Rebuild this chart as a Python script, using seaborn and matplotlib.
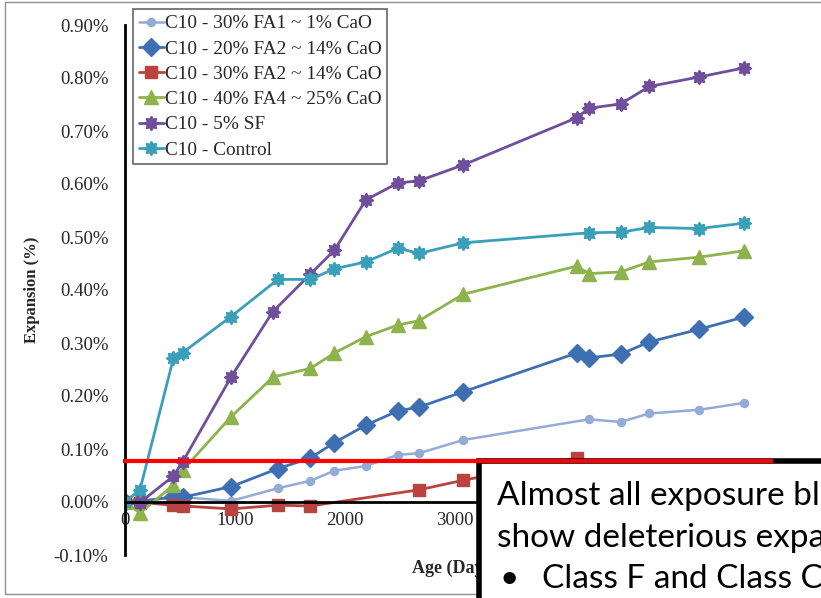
import matplotlib
matplotlib.use("Agg")
import matplotlib.pyplot as plt
import seaborn as sns
from matplotlib.lines import Line2D
from matplotlib.markers import MarkerStyle
from matplotlib.patches import Rectangle
from matplotlib.path import Path
from matplotlib.ticker import FixedLocator, FuncFormatter, MultipleLocator
from matplotlib.transforms import blended_transform_factory

sns.set_style("white")
plt.rcParams["font.family"] = ["Liberation Serif", "DejaVu Serif"]

# ---- expansion data (age in days, expansion in %) ----
labels = [
    "C10 - 30% FA1 ~ 1% CaO",
    "C10 - 20% FA2 ~ 14% CaO",
    "C10 - 30% FA2 ~ 14% CaO",
    "C10 - 40% FA4 ~ 25% CaO",
    "C10 - 5% SF",
    "C10 - Control",
]

fa1_30_age = [0, 136, 440, 525, 965, 1390, 1686, 1903, 2190, 2482, 2673, 3075,
              4218, 4506, 4766, 5221, 5627]
fa1_30_exp = [0.000, 0.002, 0.008, 0.009, 0.002, 0.026, 0.040, 0.059, 0.068,
              0.089, 0.092, 0.117, 0.156, 0.151, 0.167, 0.174, 0.187]

fa2_20_age = [0, 136, 440, 525, 965, 1390, 1686, 1903, 2190, 2482, 2673, 3075,
              4106, 4218, 4506, 4766, 5221, 5627]
fa2_20_exp = [0.000, 0.001, 0.010, 0.009, 0.029, 0.063, 0.083, 0.112, 0.145,
              0.172, 0.179, 0.208, 0.281, 0.272, 0.279, 0.302, 0.326, 0.349]

fa2_30_age = [0, 136, 440, 525, 965, 1394, 1686, 2673, 3075, 4106]
fa2_30_exp = [0.000, -0.001, -0.006, -0.0075, -0.013, -0.006, -0.0075,
              0.023, 0.041, 0.083]

fa4_40_age = [0, 136, 440, 525, 965, 1348, 1686, 1903, 2190, 2482, 2673, 3075,
              4106, 4218, 4506, 4766, 5221, 5627]
fa4_40_exp = [0.000, -0.021, 0.032, 0.060, 0.161, 0.236, 0.252, 0.281, 0.312,
              0.334, 0.342, 0.392, 0.445, 0.431, 0.434, 0.453, 0.462, 0.474]

sf_5_age = [0, 136, 440, 525, 965, 1343, 1686, 1903, 2190, 2482, 2673, 3075,
            4106, 4218, 4506, 4766, 5221, 5627]
sf_5_exp = [0.000, -0.001, 0.049, 0.076, 0.236, 0.359, 0.430, 0.475, 0.570,
            0.602, 0.606, 0.636, 0.725, 0.743, 0.751, 0.784, 0.802, 0.819]

control_age = [0, 136, 440, 525, 965, 1390, 1686, 1903, 2190, 2482, 2673, 3075,
               4218, 4506, 4766, 5221, 5627]
control_exp = [0.000, 0.023, 0.271, 0.282, 0.350, 0.420, 0.420, 0.440, 0.453,
               0.479, 0.469, 0.489, 0.508, 0.509, 0.518, 0.516, 0.526]

age_ticks = [0, 1000, 2000, 3000]
threshold = 0.078  # deleterious expansion limit, %

note_lines = ["Almost all exposure blocks", "show deleterious expansion"]
note_bullet = "Class F and Class C fly ash"

# chunky eight-pointed asterisk marker
star = MarkerStyle(Path.unit_regular_star(8, innerCircle=0.62), joinstyle="round")
series = [
    (fa1_30_age, fa1_30_exp, "#93abd6", "o", 5.8, 1.8),
    (fa2_20_age, fa2_20_exp, "#3f6fb3", "D", 9.0, 2.0),
    (fa2_30_age, fa2_30_exp, "#b8433f", "s", 9.0, 2.0),
    (fa4_40_age, fa4_40_exp, "#8db34c", "^", 9.5, 2.0),
    (sf_5_age, sf_5_exp, "#6f4e9c", star, 9.5, 2.0),
    (control_age, control_exp, "#3aa0b9", star, 9.5, 2.0),
]

fig = plt.figure(figsize=(8.21, 5.98), dpi=100)
W, H = 821, 598
ax = fig.add_axes([125 / W, 43 / H, 660 / W, 530 / H])

for (age, exp, color, marker, ms, lw), label in zip(series, labels):
    mew = 1.5 if marker is star else 1.0
    sns.lineplot(x=age, y=exp, ax=ax, color=color, marker=marker,
                 markersize=ms, markeredgecolor=color, markeredgewidth=mew,
                 linewidth=lw, label=label, errorbar=None, sort=False)

ax.set_xlim(0, 6000)
ax.set_ylim(-0.1, 0.9)
ax.xaxis.set_major_locator(FixedLocator(age_ticks))
ax.yaxis.set_major_locator(MultipleLocator(0.1))
ax.yaxis.set_major_formatter(FuncFormatter(lambda v, p: f"{v:.2f}%"))
ax.xaxis.set_major_formatter(FuncFormatter(lambda v, p: f"{v:.0f}"))
ax.tick_params(axis="y", length=0, pad=12, labelsize=13.5)
ax.tick_params(axis="x", length=0, pad=7, labelsize=13.5)

for side in ("top", "right"):
    ax.spines[side].set_visible(False)
ax.spines["bottom"].set_position(("data", 0))
for side in ("left", "bottom"):
    ax.spines[side].set_color("black")
    ax.spines[side].set_linewidth(2.0)
ax.grid(False)

ax.set_ylabel("Expansion (%)", fontsize=12, fontweight="bold")
ax.yaxis.set_label_coords(-0.129, 0.5)
ax.set_xlabel("Age (Days)", fontsize=13, fontweight="bold")
ax.xaxis.label.set_va("center")
ax.xaxis.set_label_coords(0.4985, -0.026)

leg = ax.legend(loc="upper left", bbox_to_anchor=(0.012, 1.030),
                borderaxespad=0, fontsize=13.9, frameon=True, fancybox=False,
                edgecolor="#404040", handlelength=1.3, handletextpad=0.05,
                labelspacing=0.40, borderpad=0.3)
leg.get_frame().set_linewidth(1.2)

# outer chart-area border
fig.add_artist(Rectangle((5 / W, 4 / H), 1.2, (H - 5.5) / H,
                         transform=fig.transFigure, fill=False,
                         edgecolor="#8f8f8f", linewidth=1.0, zorder=0.5))

# callout box overlapping the lower right corner
fig.add_artist(Rectangle((479 / W, -0.1), 0.6, 0.1 + (H - 461) / H,
                         transform=fig.transFigure, facecolor="white",
                         edgecolor="black", linewidth=4.0, zorder=5))

# threshold line drawn across the chart at the limit value
trans = blended_transform_factory(fig.transFigure, ax.transData)
fig.add_artist(Line2D([123 / W, 773 / W], [threshold, threshold],
                      transform=trans, color="#ff0000", linewidth=3.0,
                      solid_capstyle="butt", zorder=6))

box_font = dict(family=["Lato", "DejaVu Sans"], fontsize=24, color="black",
                va="baseline", zorder=7)
fig.text(497 / W, (H - 505) / H, note_lines[0], **box_font)
fig.text(497 / W, (H - 547) / H, note_lines[1], **box_font)
fig.text(499 / W, (H - 588) / H, "\u2022", **box_font)
fig.text(542 / W, (H - 588) / H, note_bullet, **box_font)

fig.savefig("out.png", dpi=100)
